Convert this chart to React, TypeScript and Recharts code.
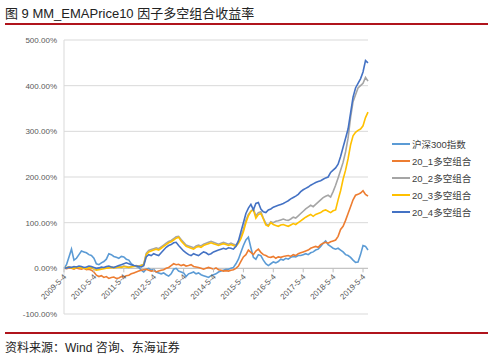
import React from 'react';
import { LineChart, Line, XAxis, YAxis, CartesianGrid, ReferenceLine } from 'recharts';

// month index 0 = 2009-5, one point per month
const tickIndex = [0, 12, 24, 36, 48, 60, 72, 84, 96, 108, 120];
const tickLabels = [
  '2009-5-4', '2010-5-4', '2011-5-4', '2012-5-4', '2013-5-4', '2014-5-4',
  '2015-5-4', '2016-5-4', '2017-5-4', '2018-5-4', '2019-5-4',
];
const yTicks = [-100, 0, 100, 200, 300, 400, 500];

const hs300 = [
  0, 8, 25, 42, 18, 22, 30, 38, 36, 34,
  30, 28, 22, 10, 8, 12, 15, 20, 32, 30,
  26, 24, 22, 26, 25, 20, 18, 10, 6, 4,
  2, -4, -8, -2, 0, -4, -2, -8, -10, -12,
  -10, -14, -17, -12, -2, 0, -6, -8, -10, -18,
  -12, -10, -8, -12, -10, -14, -16, -18, -20, -16,
  -14, -12, -8, -6, -4, -2, -2, 0, 2, 10,
  20, 35, 50, 62, 68, 45, 24, 20, 30, 28,
  18, 10, 6, 10, 14, 12, 15, 20, 18, 22,
  20, 24, 26, 25, 28, 28, 30, 32, 30, 34,
  36, 40, 42, 48, 55, 60, 52, 48, 44, 42,
  44, 40, 36, 30, 28, 24, 18, 13, 14, 30,
  50, 48, 40,
];
const g1 = [
  0, -1, 1, 0, -2, 1, -1, -2, 0, -3,
  -2, -4, -8, -15, -18, -16, -20, -18, -22, -20,
  -19, -22, -21, -18, -19, -16, -15, -12, -10, -8,
  -6, -4, -3, -2, -4, -6, -5, -8, -6, -4,
  -3, 0, 2, 6, 10, 8, 9, 6, 8, 5,
  6, 8, 4, 3, 2, 0, -2, 0, 2, 0,
  -2, 1, -3, -4, -6, -5, -6, -4, -3, 0,
  5, 15, 25, 30, 40, 35, 30, 38, 42, 35,
  30, 28, 25, 24, 26, 22, 25, 24, 26, 27,
  28, 26, 30, 28, 32, 34, 36, 38, 40, 44,
  46, 48, 46, 52, 55, 57, 55, 58, 60, 62,
  70, 85, 92, 105, 120, 135, 150, 160, 162, 165,
  170, 162, 158,
];
const g2 = [
  0, 1, 2, 2, 1, 3, 2, 2, 1, 0,
  2, 1, -1, -2, -1, 0, 1, 1, 2, 3,
  2, 3, 4, 3, 5, 4, 3, 4, 5, 6,
  5, 7, 9, 33, 39, 41, 43, 45, 43, 47,
  51, 55, 59, 61, 65, 69, 70, 63, 57, 51,
  49, 47, 45, 49, 51, 49, 53, 55, 57, 59,
  57, 55, 53, 55, 57, 55, 53, 55, 53, 51,
  58, 70, 85, 105, 118, 125, 130, 115, 122, 124,
  110, 98, 94, 102, 100, 103, 104, 106, 108, 106,
  105, 108, 112, 110, 115, 120, 125, 130, 134, 138,
  135, 140, 145, 150, 155, 158, 160, 156, 168, 182,
  198, 215, 232, 255, 285, 330, 365, 380, 395, 400,
  405, 418, 410,
];
const g3 = [
  0, 2, 3, 1, 0, 2, 3, 1, 0, -1,
  1, 2, -2, -4, -3, -2, -1, 0, 1, 2,
  1, 2, 3, 2, 4, 3, 2, 3, 4, 5,
  4, 6, 8, 30, 36, 38, 40, 42, 40, 44,
  48, 52, 56, 58, 62, 66, 68, 60, 54, 48,
  46, 44, 42, 46, 48, 46, 50, 52, 54, 56,
  54, 52, 50, 52, 54, 52, 50, 52, 50, 48,
  55, 65, 80, 100, 115, 125, 128, 110, 118, 120,
  108, 95, 92, 100, 96, 94, 92, 95, 96, 94,
  92, 95, 98, 96, 100, 104, 108, 112, 115, 118,
  114, 118, 120, 122, 126, 128, 125, 122, 126, 128,
  150, 170, 195, 215, 240, 270, 290, 298, 302, 305,
  312, 330, 342,
];
const g4 = [
  0, 1, 3, 2, 4, 3, 5, 4, 2, 3,
  5, 4, 2, 0, 1, 3, 2, 4, 5, 3,
  2, 4, 6, 8, 10, 12, 10, 8, 6, 5,
  4, 3, 6, 25, 30, 28, 32, 30, 28, 34,
  40, 46, 50, 52, 56, 57, 50, 44, 38, 34,
  30, 28, 32, 30, 28, 32, 36, 34, 30, 32,
  36, 38, 40, 42, 44, 42, 45, 44, 42, 48,
  60, 80, 100, 120, 132, 140, 128, 142, 144, 130,
  124, 122, 128, 130, 134, 136, 138, 140, 142, 145,
  148, 152, 155, 158, 162, 168, 172, 175, 178, 182,
  185, 188, 190, 192, 195, 198, 200, 210, 215, 220,
  228, 245, 265, 285, 305, 340, 375, 395, 405, 415,
  430, 455, 450,
];

const seriesKeys = ['hs300', 'g1', 'g2', 'g3', 'g4'];
const seriesNames = ['沪深300指数', '20_1多空组合', '20_2多空组合', '20_3多空组合', '20_4多空组合'];
const seriesColors = ['#5B9BD5', '#ED7D31', '#A5A5A5', '#FFC000', '#4472C4'];

const data = hs300.map((v, i) => ({ i, hs300: v, g1: g1[i], g2: g2[i], g3: g3[i], g4: g4[i] }));

const FONT = '"Liberation Sans", Arial, "Noto Sans CJK SC", sans-serif';
const PLOT_TOP = 40;
const PLOT_BOTTOM = 314;
const zeroY = PLOT_TOP + ((PLOT_BOTTOM - PLOT_TOP) * 500) / 600;

const XTick = (props: any) => {
  const { x, payload } = props;
  const k = tickIndex.indexOf(payload.value);
  const tx = x + 3;
  const ty = zeroY + 9;
  return (
    <g>
      <line x1={x} x2={x} y1={zeroY} y2={zeroY + 4} stroke="#bfbfbf" />
      <text x={tx} y={ty} textAnchor="end" fontSize={8} fill="#595959" fontFamily={FONT}
        transform={`rotate(-45 ${tx} ${ty})`}>
        {tickLabels[k]}
      </text>
    </g>
  );
};

const LegendBox = () => (
  <div style={{ position: 'absolute', left: 392, top: 135, fontSize: 9.5, color: '#404040' }}>
    {seriesNames.map((n, i) => (
      <div key={n} style={{ display: 'flex', alignItems: 'center', height: 17, whiteSpace: 'nowrap' }}>
        <span style={{ display: 'inline-block', width: 18, height: 2, background: seriesColors[i], marginRight: 2 }} />
        {n}
      </div>
    ))}
  </div>
);

export default function App() {
  return (
    <div style={{ position: 'absolute', left: 0, top: 0, width: 496, height: 361, background: '#fff', fontFamily: FONT }}>
      <LineChart width={496} height={361} data={data} margin={{ top: PLOT_TOP, right: 128, bottom: 17, left: 0 }}>
        <CartesianGrid vertical={false} stroke="#d9d9d9" />
        <XAxis dataKey="i" type="number" domain={[0, 122]} ticks={tickIndex} height={30}
          axisLine={false} tickLine={false} tick={<XTick />} interval={0} />
        <YAxis domain={[-100, 500]} ticks={yTicks} width={64} tickLine={false} tickSize={0} tickMargin={7}
          axisLine={{ stroke: '#d9d9d9' }}
          tick={{ fontSize: 8, fill: '#595959', fontFamily: FONT }}
          tickFormatter={(v: number) => `${v.toFixed(2)}%`} />
        <ReferenceLine y={0} stroke="#bfbfbf" />
        {seriesKeys.map((k, i) => (
          <Line key={k} dataKey={k} name={seriesNames[i]} stroke={seriesColors[i]} strokeWidth={1.6}
            dot={false} isAnimationActive={false} type="linear" />
        ))}
      </LineChart>
      <LegendBox />
      <div style={{ position: 'absolute', left: 5, top: 3, fontSize: 13, color: '#222', whiteSpace: 'nowrap' }}>
        图 9 MM_EMAPrice10 因子多空组合收益率
      </div>
      <div style={{ position: 'absolute', left: 5, top: 23, width: 483, height: 2, background: '#B0141C' }} />
      <div style={{ position: 'absolute', left: 5, top: 332, width: 483, height: 2, background: '#B0141C' }} />
      <div style={{ position: 'absolute', left: 5, top: 338, fontSize: 12, color: '#222', whiteSpace: 'nowrap' }}>
        资料来源：Wind 咨询、东海证券
      </div>
    </div>
  );
}
